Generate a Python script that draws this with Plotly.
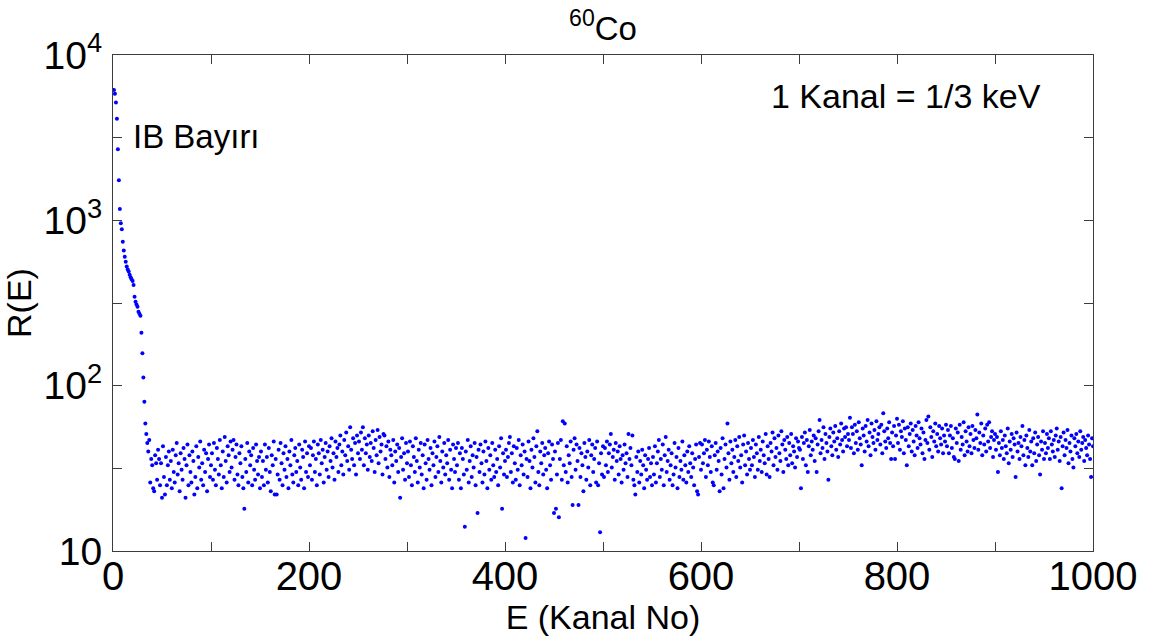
import plotly.graph_objects as go

# Pulse-height spectrum of 60Co: counts R(E) per channel, channels 1..1000
counts_001_050 = [6150, 5820, 5160, 4120, 2690, 1750, 1172, 960, 883, 743,
                  656, 603, 562, 525, 505, 490, 468, 453, 440, 430,
                  407, 345, 322, 310, 300, 280, 272, 265, 209, 157,
                  112, 80, 59, 51, 45, 40, 47, 26, 36, 33,
                  24, 23, 38, 34, 27, 41, 36, 25, 34, 21]
counts_051_100 = [43, 28, 22, 37, 25, 33, 40, 27, 35, 24,
                  41, 30, 26, 38, 45, 29, 34, 23, 39, 31,
                  27, 42, 36, 21, 33, 44, 25, 38, 30, 26,
                  40, 35, 22, 28, 43, 24, 37, 32, 46, 27,
                  34, 25, 41, 30, 39, 23, 36, 44, 28, 33]
counts_101_150 = [39, 27, 45, 31, 25, 42, 36, 29, 47, 33,
                  24, 40, 28, 49, 35, 26, 43, 38, 30, 46,
                  32, 41, 47, 27, 37, 44, 29, 25, 39, 34,
                  43, 28, 24, 18, 36, 30, 45, 26, 40, 33,
                  38, 25, 42, 31, 27, 44, 35, 29, 37, 24]
counts_151_200 = [40, 28, 35, 25, 44, 31, 37, 26, 42, 30,
                  23, 38, 33, 46, 22, 36, 22, 29, 41, 27,
                  45, 34, 25, 39, 31, 43, 28, 36, 24, 40,
                  33, 47, 29, 26, 38, 42, 30, 35, 25, 44,
                  32, 27, 41, 37, 24, 46, 30, 39, 28, 43]
counts_201_250 = [33, 42, 27, 38, 46, 30, 36, 25, 44, 39,
                  29, 47, 34, 41, 26, 37, 45, 31, 40, 28,
                  43, 35, 48, 32, 39, 27, 46, 37, 42, 30,
                  44, 50, 33, 40, 29, 47, 38, 52, 35, 43,
                  31, 56, 41, 36, 48, 33, 45, 29, 50, 39]
counts_251_300 = [46, 36, 52, 41, 56, 33, 48, 39, 44, 31,
                  50, 37, 45, 35, 53, 42, 30, 47, 38, 54,
                  34, 49, 40, 44, 29, 51, 50, 36, 43, 32,
                  46, 28, 41, 38, 33, 47, 26, 40, 35, 44,
                  30, 42, 21, 37, 48, 31, 39, 27, 45, 34]
counts_301_350 = [40, 28, 46, 33, 25, 43, 37, 30, 48, 35,
                  26, 41, 32, 45, 29, 38, 24, 44, 34, 27,
                  47, 36, 31, 42, 25, 39, 33, 46, 28, 37,
                  43, 30, 49, 35, 26, 40, 32, 45, 29, 38,
                  34, 47, 27, 41, 31, 24, 44, 36, 30, 42]
counts_351_400 = [33, 45, 27, 39, 24, 42, 36, 29, 14, 40,
                  31, 47, 26, 35, 43, 28, 38, 32, 45, 25,
                  37, 17, 41, 30, 44, 34, 26, 40, 29, 46,
                  35, 24, 42, 31, 38, 27, 45, 33, 28, 41,
                  30, 36, 25, 43, 32, 48, 18, 39, 29, 35]
counts_401_450 = [41, 28, 37, 45, 49, 30, 39, 26, 43, 34,
                  27, 42, 31, 47, 25, 38, 33, 44, 29, 40,
                  12, 36, 28, 46, 35, 24, 41, 32, 48, 37,
                  26, 43, 53, 30, 25, 40, 34, 45, 29, 38,
                  42, 31, 24, 39, 46, 33, 27, 44, 36, 17]
counts_451_500 = [40, 18, 29, 45, 16, 36, 47, 27, 61, 33,
                  59, 30, 43, 26, 38, 34, 46, 28, 19, 41,
                  48, 31, 44, 35, 19, 42, 28, 39, 33, 23,
                  45, 37, 27, 40, 32, 47, 25, 38, 44, 30,
                  36, 42, 26, 46, 25, 34, 13, 39, 29, 43]
counts_501_550 = [28, 42, 33, 46, 30, 39, 44, 51, 32, 37,
                  41, 27, 45, 35, 40, 29, 43, 36, 26, 38,
                  31, 44, 34, 39, 28, 51, 36, 42, 33, 50,
                  27, 25, 22, 37, 30, 40, 26, 35, 29, 41,
                  33, 24, 38, 31, 27, 36, 42, 28, 34, 25]
counts_551_600 = [37, 29, 43, 26, 34, 40, 47, 28, 36, 31,
                  44, 25, 38, 49, 30, 35, 41, 27, 33, 39,
                  25, 29, 45, 32, 37, 24, 42, 28, 35, 31,
                  46, 27, 38, 33, 26, 40, 30, 43, 34, 28,
                  39, 32, 25, 36, 44, 23, 22, 37, 45, 31]
counts_601_650 = [44, 34, 39, 47, 28, 41, 33, 46, 37, 30,
                  43, 26, 25, 38, 45, 31, 40, 35, 23, 42,
                  29, 48, 24, 36, 44, 32, 59, 39, 27, 46,
                  34, 41, 30, 37, 47, 28, 43, 35, 49, 32,
                  38, 26, 44, 50, 33, 40, 29, 45, 36, 31]
counts_651_700 = [42, 33, 47, 37, 28, 44, 39, 31, 49, 35,
                  41, 30, 46, 38, 34, 51, 29, 43, 36, 28,
                  45, 40, 52, 33, 48, 37, 42, 31, 50, 39,
                  35, 53, 44, 30, 47, 41, 36, 49, 33, 45,
                  38, 51, 34, 43, 40, 32, 48, 37, 46, 42]
counts_701_750 = [41, 24, 49, 36, 45, 52, 33, 47, 30, 43,
                  54, 38, 46, 41, 50, 35, 48, 30, 44, 53,
                  62, 39, 47, 42, 56, 36, 51, 45, 40, 27,
                  49, 55, 43, 38, 52, 46, 57, 41, 48, 37,
                  53, 44, 59, 47, 40, 55, 49, 56, 43, 51]
counts_751_800 = [47, 64, 42, 56, 51, 39, 58, 45, 53, 41,
                  60, 48, 44, 33, 55, 50, 40, 57, 46, 62,
                  43, 52, 38, 59, 49, 45, 54, 41, 61, 47,
                  51, 56, 44, 58, 39, 68, 53, 46, 42, 55,
                  48, 60, 45, 36, 52, 43, 57, 36, 50, 63]
counts_801_850 = [45, 58, 41, 53, 49, 61, 39, 55, 47, 33,
                  56, 43, 51, 59, 40, 54, 46, 38, 57, 50,
                  42, 60, 48, 44, 55, 39, 52, 36, 47, 62,
                  45, 65, 41, 56, 49, 37, 53, 46, 59, 43,
                  51, 40, 57, 48, 44, 55, 39, 50, 46, 58]
counts_851_900 = [43, 54, 39, 50, 57, 42, 48, 37, 36, 55,
                  45, 52, 35, 58, 41, 49, 44, 60, 38, 53,
                  46, 40, 56, 43, 51, 39, 57, 47, 42, 54,
                  48, 67, 41, 52, 45, 59, 38, 50, 44, 55,
                  40, 58, 46, 60, 42, 49, 53, 37, 47, 51]
counts_901_950 = [41, 49, 30, 45, 38, 53, 42, 47, 36, 50,
                  43, 39, 55, 34, 46, 41, 51, 37, 48, 44,
                  28, 52, 40, 45, 36, 49, 43, 57, 38, 47,
                  33, 50, 42, 37, 54, 40, 46, 33, 48, 39,
                  52, 35, 44, 49, 38, 29, 46, 41, 53, 36]
counts_951_1000 = [45, 39, 51, 42, 48, 36, 53, 44, 40, 47,
                   37, 50, 55, 41, 46, 35, 49, 24, 43, 52,
                   38, 47, 42, 54, 34, 45, 40, 50, 36, 32,
                   48, 43, 51, 39, 46, 37, 53, 41, 45, 49,
                   35, 47, 42, 38, 50, 44, 36, 28, 48, 43]

counts = (counts_001_050 + counts_051_100 + counts_101_150 + counts_151_200
          + counts_201_250 + counts_251_300 + counts_301_350 + counts_351_400
          + counts_401_450 + counts_451_500 + counts_501_550 + counts_551_600
          + counts_601_650 + counts_651_700 + counts_701_750 + counts_751_800
          + counts_801_850 + counts_851_900 + counts_901_950 + counts_951_1000)
channels = list(range(1, len(counts) + 1))

x_tick_vals = list(range(0, 1001, 100))
x_tick_text = [str(v) if v % 200 == 0 else "" for v in x_tick_vals]
y_tick_vals = [10, 31.623, 100, 316.23, 1000, 3162.3, 10000]
y_tick_text = ["10", "", "10<sup>2</sup>", "", "10<sup>3</sup>", "", "10<sup>4</sup>"]

FONT = "Liberation Sans, Arial, sans-serif"
AXIS_COLOR = "#3c3c3c"

fig = go.Figure()
fig.add_trace(go.Scatter(
    x=channels, y=counts, mode="markers",
    marker=dict(symbol="circle", size=4, color="#0000ff", line=dict(width=0)),
    showlegend=False,
))

fig.update_layout(
    width=1155, height=644,
    margin=dict(l=113, r=62, t=55, b=93, autoexpand=False),
    paper_bgcolor="white", plot_bgcolor="white",
    font=dict(family=FONT, color="black"),
    title=dict(text="<sup>60</sup>Co", x=0.5, xref="paper", xanchor="center",
               y=(644 - 28) / 644, yref="container", yanchor="middle",
               font=dict(family=FONT, size=33, color="black")),
)

fig.update_xaxes(
    range=[0, 1000], tickmode="array", tickvals=x_tick_vals, ticktext=x_tick_text,
    ticks="inside", ticklen=9, tickwidth=1, tickcolor=AXIS_COLOR,
    showline=True, linecolor=AXIS_COLOR, linewidth=1, mirror="ticks",
    showgrid=False, zeroline=False, automargin=False,
    tickfont=dict(family=FONT, size=40, color="black"), ticklabelstandoff=-10,
    title=dict(text="E (Kanal No)", font=dict(family=FONT, size=34, color="black"),
               standoff=0),
)

fig.update_yaxes(
    type="log", range=[1, 4], tickmode="array", tickvals=y_tick_vals, ticktext=y_tick_text,
    ticks="inside", ticklen=9, tickwidth=1, tickcolor=AXIS_COLOR,
    showline=True, linecolor=AXIS_COLOR, linewidth=1, mirror="ticks",
    showgrid=False, zeroline=False, automargin=False,
    tickfont=dict(family=FONT, size=39, color="black"), ticklabelstandoff=2,
    title=dict(text="R(E)", font=dict(family=FONT, size=34, color="black"), standoff=2),
)

fig.add_annotation(text="IB Bayırı", xref="paper", yref="paper",
                   x=(131 - 113) / 980, y=(551 - 136) / 496,
                   xanchor="left", yanchor="middle", showarrow=False,
                   font=dict(family=FONT, size=33, color="black"))
fig.add_annotation(text="1 Kanal = 1/3 keV", xref="paper", yref="paper",
                   x=(769 - 113) / 980, y=(551 - 96) / 496,
                   xanchor="left", yanchor="middle", showarrow=False,
                   font=dict(family=FONT, size=34, color="black"))

fig.write_html("out.html")
